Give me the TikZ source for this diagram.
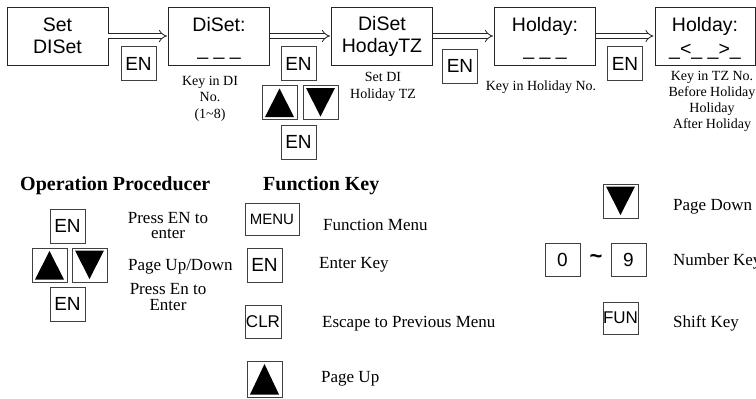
\documentclass[tikz,border=0pt]{standalone}
\usepackage{fontspec}
\setmainfont{Liberation Serif}
\setsansfont{Liberation Sans}
\usetikzlibrary{arrows.meta}
\tikzset{
  screen/.style={draw=black!85, line width=0.9pt, minimum width=101pt, minimum height=58pt, inner sep=0pt,
    align=center, font=\sffamily\fontsize{19.5}{22}\selectfont},
  keybox/.style={draw=black!75, line width=0.9pt, minimum width=35pt, minimum height=34pt, inner sep=0pt,
    font=\sffamily\fontsize{19}{21}\selectfont},
  smallkey/.style={keybox, font=\sffamily\fontsize{15}{17}\selectfont},
  upkey/.style={keybox, path picture={\fill[black]
      ([xshift=3pt,yshift=2.5pt]path picture bounding box.south west) --
      ([xshift=-3pt,yshift=2.5pt]path picture bounding box.south east) --
      ([yshift=-3pt]path picture bounding box.north) -- cycle;}},
  downkey/.style={keybox, path picture={\fill[black]
      ([xshift=3pt,yshift=-2.5pt]path picture bounding box.north west) --
      ([xshift=-3pt,yshift=-2.5pt]path picture bounding box.north east) --
      ([yshift=3pt]path picture bounding box.south) -- cycle;}},
  caption/.style={inner sep=0pt, align=center, anchor=base, font=\fontsize{14}{16.5}\selectfont},
  desc/.style={inner sep=0pt, anchor=base west, font=\fontsize{17}{16}\selectfont},
  desccenter/.style={inner sep=0pt, anchor=base, align=center, font=\fontsize{17}{15.5}\selectfont},
  title/.style={inner sep=0pt, anchor=base west, font=\bfseries\fontsize{20}{22}\selectfont},
  flow/.style={draw=black!85, line width=0.8pt, double, double distance=3.5pt, -{Implies[length=5pt]}, shorten >=1pt},
}
\begin{document}
\begin{tikzpicture}[x=1pt,y=-1pt]
\useasboundingbox (0,0) rectangle (756,399);
% main screens
\node[screen] (b1) at (57.5,36) {Set\\DISet};
\node[screen] (b2) at (219,36) {DiSet:\\[2pt]\vphantom{D}\smash{\_ \_ \_}};
\node[screen] (b3) at (382,36) {DiSet\\HodayTZ};
\node[screen] (b4) at (545,36) {Holday:\\[2pt]\vphantom{D}\smash{\_ \_ \_}};
\node[screen, minimum width=100pt] (b5) at (705,36) {Holday:\\[2pt]\vphantom{D}\smash{\_<\_ \_>\_}};
\draw[flow] (b1) -- (b2);
\draw[flow] (b2) -- (b3);
\draw[flow] (b3) -- (b4);
\draw[flow] (b4) -- (b5);
% keys along the flow
\node[keybox] (k1) at (138.5,63.5) {EN};
\node[keybox] (k2) at (298.5,63.5) {EN};
\node[upkey] (u2) at (279.5,102.5) {};
\node[downkey] (d2) at (320.5,102.5) {};
\node[keybox] (k3) at (298.5,142) {EN};
\node[keybox] (k4) at (460,66) {EN};
\node[keybox] (k5) at (625,63.5) {EN};
% captions (anchor = baseline of last line)
\node[caption] (c2) at (210,118) {Key in DI\\No.\\(1\textasciitilde 8)};
\node[caption] (c3) at (383,98) {Set DI\\Holiday TZ};
\node[caption] (c4) at (541,90) {Key in Holiday No.};
\node[caption, font=\fontsize{14}{16}\selectfont] (c5) at (712,128) {Key in TZ No.\\Before Holiday\\Holiday\\After Holiday};
% operation procedure
\node[title] (t1) at (20,190) {Operation Proceducer};
\node[keybox] (o1) at (67.5,226) {EN};
\node[upkey] (o2) at (49.5,265) {};
\node[downkey] (o3) at (89.5,265) {};
\node[keybox] (o4) at (67.5,304) {EN};
\node[desccenter] (od1) at (168,238.5) {Press EN to\\enter};
\node[desc] (od2) at (128,270) {Page Up/Down};
\node[desccenter] (od3) at (168,310) {Press En to\\Enter};
% function keys
\node[title] (t2) at (263,190) {Function Key};
\node[smallkey, minimum width=54pt, minimum height=32pt] (f1) at (272,219) {MENU};
\node[desc] (fd1) at (323,230) {Function Menu};
\node[keybox] (f2) at (264.5,265) {EN};
\node[desc] (fd2) at (319,268) {Enter Key};
\node[smallkey, font=\sffamily\fontsize{17}{19}\selectfont, minimum width=36pt, minimum height=33pt] (f3) at (263,321.5) {CLR};
\node[desc] (fd3) at (322,327) {Escape to Previous Menu};
\node[upkey, minimum height=36pt] (f4) at (264.5,379) {};
\node[desc] (fd4) at (321,382) {Page Up};
\node[downkey] (f5) at (620.5,201) {};
\node[desc] (fd5) at (673,210) {Page Down};
\node[keybox, minimum height=33pt] (f6) at (562.5,259.5) {0};
\node[inner sep=0pt, font=\sffamily\bfseries\fontsize{22}{22}\selectfont] (tl) at (596,259) {\textasciitilde};
\node[keybox, minimum height=33pt] (f7) at (628.5,259.5) {9};
\node[desc] (fd6) at (673,265) {Number Key};
\node[smallkey, font=\sffamily\fontsize{17}{19}\selectfont, minimum height=32pt] (f8) at (620.5,318) {FUN};
\node[desc] (fd7) at (673,327) {Shift Key};
\end{tikzpicture}
\end{document}
